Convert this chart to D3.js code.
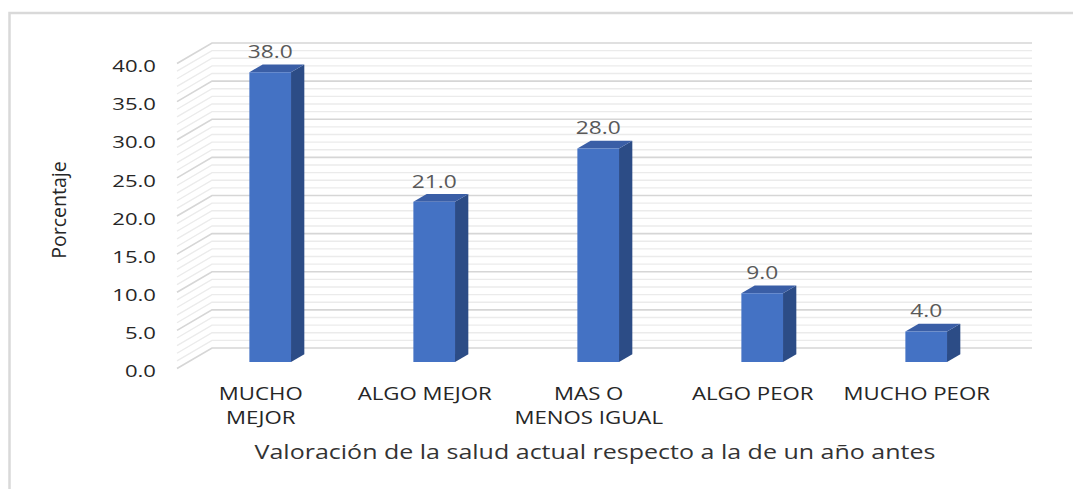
<!DOCTYPE html>
<html>
<head>
<meta charset="utf-8">
<script src="https://cdn.jsdelivr.net/npm/d3@7"></script>
<style>
  body { margin: 0; background: #fff; }
  text { font-family: "Open Sans", sans-serif; }
</style>
</head>
<body>
<svg width="1073" height="489"></svg>
<script>
// Data
const categories = [['MUCHO', 'MEJOR'], ['ALGO MEJOR'], ['MAS O', 'MENOS IGUAL'], ['ALGO PEOR'], ['MUCHO PEOR']];
const values = [38.0, 21.0, 28.0, 9.0, 4.0];
const yTicks = [0, 5, 10, 15, 20, 25, 30, 35, 40];
const yTitle = 'Porcentaje';
const xTitle = 'Valoración de la salud actual respecto a la de un año antes';

const svg = d3.select('svg');
const sx = 1.3; // the text in the picture is stretched sideways

// back wall scales, and the depth offset of the 3D box
const x = d3.scaleBand().domain(d3.range(values.length)).range([212, 1032]);
const y = d3.scaleLinear().domain([0, 40]).range([348, 43]);
const depth = {dx: -35, dy: 20.5};
const proj = (px, py, t) => [px + depth.dx * t, py + depth.dy * t];
const barFront = 0.68, barBack = 0.3;
const halfW = x.bandwidth() * 0.127;

// outer frame
svg.append('rect')
  .attr('x', 9.5).attr('y', 13).attr('width', 1200).attr('height', 600)
  .attr('fill', 'none').attr('stroke', '#d9d9d9').attr('stroke-width', 2.5);

// gridlines: minor every 1, major every 5
const grid = svg.append('g');
const gridVals = d3.range(0, 41, 1).sort((a, b) => (a % 5 === 0) - (b % 5 === 0));
gridVals.forEach(v => {
  const major = v % 5 === 0;
  const [fx, fy] = proj(x.range()[0], y(v), 1);
  grid.append('path')
    .attr('d', `M${fx},${fy}L${x.range()[0]},${y(v)}L${x.range()[1]},${y(v)}`)
    .attr('fill', 'none')
    .attr('stroke', major ? '#d6d6d6' : '#ebebeb')
    .attr('stroke-width', major ? 1.7 : 1.4);
});

// y tick labels
svg.append('g').selectAll('text')
  .data(yTicks).enter()
  .append('text')
  .attr('transform', d => `translate(156,${y(d) + depth.dy + 2.5}) scale(${sx},1)`)
  .attr('dy', '0.36em')
  .attr('text-anchor', 'end')
  .attr('font-size', 17)
  .attr('fill', '#262626')
  .text(d => d3.format('.1f')(d));

// bars
const bars = svg.append('g').selectAll('g')
  .data(values).enter()
  .append('g');

const cx = i => x(i) + x.bandwidth() / 2;
const pts = arr => arr.map(p => p.join(',')).join(' ');

bars.append('polygon') // side face
  .attr('fill', '#2c4c86')
  .attr('points', (d, i) => pts([
    proj(cx(i) + halfW, y(0), barFront), proj(cx(i) + halfW, y(0), barBack),
    proj(cx(i) + halfW, y(d), barBack), proj(cx(i) + halfW, y(d), barFront)]));

bars.append('polygon') // top face
  .attr('fill', '#3a5ea6')
  .attr('points', (d, i) => pts([
    proj(cx(i) - halfW, y(d), barFront), proj(cx(i) + halfW, y(d), barFront),
    proj(cx(i) + halfW, y(d), barBack), proj(cx(i) - halfW, y(d), barBack)]));

bars.append('polygon') // front face
  .attr('fill', '#4472c4')
  .attr('points', (d, i) => pts([
    proj(cx(i) - halfW, y(0), barFront), proj(cx(i) + halfW, y(0), barFront),
    proj(cx(i) + halfW, y(d), barFront), proj(cx(i) - halfW, y(d), barFront)]));

// value labels
bars.append('text')
  .attr('transform', (d, i) => {
    const p = proj(cx(i), y(d), barBack);
    return `translate(${p[0] + depth.dx * (barFront - barBack)},${p[1] - 6.5}) scale(${sx},1)`;
  })
  .attr('text-anchor', 'middle')
  .attr('font-size', 17.5)
  .attr('fill', '#595959')
  .text(d => d3.format('.1f')(d));

// category labels, centred on the front edge of the floor
const catG = svg.append('g').selectAll('text')
  .data(categories).enter()
  .append('text')
  .attr('text-anchor', 'middle')
  .attr('font-size', 17.5)
  .attr('fill', '#262626')
  .attr('transform', (d, i) => {
    const p = proj(cx(i), y(0), 0.95);
    return `translate(${p[0]},${y(0) + depth.dy + 31.5}) scale(1.27,1)`;
  });
catG.selectAll('tspan')
  .data(d => d).enter()
  .append('tspan')
  .attr('x', 0)
  .attr('y', (d, j) => j * 24)
  .text(d => d);

// axis titles
svg.append('text')
  .attr('transform', `translate(66,210) rotate(-90) scale(1.15,1.15)`)
  .attr('text-anchor', 'middle')
  .attr('font-size', 17)
  .attr('fill', '#262626')
  .text(yTitle);

svg.append('text')
  .attr('transform', `translate(595,459) scale(1.22,1)`)
  .attr('text-anchor', 'middle')
  .attr('font-size', 20.5)
  .attr('fill', '#333')
  .text(xTitle);
</script>
</body>
</html>
